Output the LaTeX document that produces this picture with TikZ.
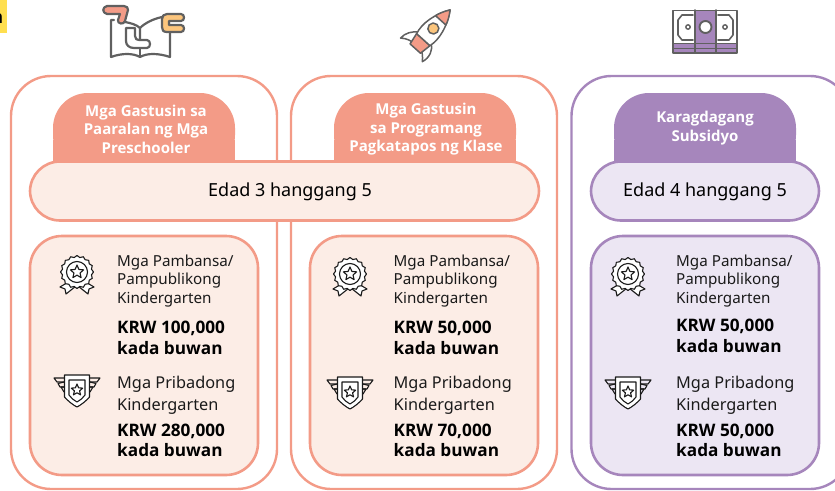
\documentclass[tikz,border=0pt]{standalone}
\usepackage{fontspec}
\setmainfont{Noto Sans}
\newfontfamily\heavyface{Open Sans}
\usetikzlibrary{shapes.geometric}
\definecolor{salmon}{HTML}{F39B87}
\definecolor{salmonfill}{HTML}{FCEDE6}
\definecolor{plum}{HTML}{A686BC}
\definecolor{plumfill}{HTML}{ECE6F3}
\definecolor{icongray}{HTML}{606060}
\definecolor{amber}{HTML}{FBC57D}
\definecolor{hilite}{HTML}{FFDF4F}
\definecolor{ink}{HTML}{1A1A1A}
\tikzset{
 x=1pt,y=-1pt,
 panel/.style={line width=2.4pt,fill=white,rounded corners=40pt},
 tabshape/.style={rounded corners=35pt},
 pill/.style={line width=2.6pt,rounded corners=30pt},
 card/.style={line width=2.6pt,rounded corners=32pt},
 tabtext/.style={font=\heavyface\fontsize{15}{18.4}\selectfont\bfseries,text=white,align=center,inner sep=0pt},
 agetext/.style={font=\fontsize{18}{22}\selectfont,text=black,inner sep=0pt},
 smalltext/.style={font=\fontsize{15.2}{18.8}\selectfont,text=ink,align=left,anchor=west,inner sep=0pt},
 midtext/.style={font=\fontsize{16.3}{22}\selectfont,text=ink,align=left,anchor=west,inner sep=0pt},
 boldtext/.style={font=\heavyface\fontsize{17.2}{20.6}\selectfont\bfseries,text=black,align=left,anchor=west,inner sep=0pt},
 ic/.style={draw=icongray,line width=2.2pt,line join=round,line cap=round},
 ln/.style={draw=ink,line width=1.1pt,line join=round,line cap=round},
 pics/medalicon/.style={code={
  \draw[ln,fill=white] (-7,9) -- (-17,15) -- (-12,17) -- (-11,22) -- (-1,14);
  \draw[ln,fill=white] (7,9) -- (17,15) -- (12,17) -- (11,22) -- (1,14);
  \node[ln,star,star points=16,star point ratio=1.12,minimum size=33pt,inner sep=0pt,fill=white] (-medalouter) at (0,0) {};
  \draw[ln] (0,0) circle[radius=10.5];
  \node[ln,star,star points=5,star point ratio=2.2,minimum size=14pt,inner sep=0pt] (-medalstar) at (0,0) {};
 }},
 pics/shieldicon/.style={code={
  \foreach \s in {-1,1}{
   \draw[ln] (\s*13,-12) -- (\s*23,-12) -- (\s*20,-8) -- (\s*13,-8);
   \draw[ln] (\s*13,-8) -- (\s*19,-6.5) -- (\s*17,-3) -- (\s*13,-3);
   \draw[ln] (\s*13,-3) -- (\s*16,-3) -- (\s*13,2);
  }
  \draw[ln,fill=white] (-12.5,-15) -- (12.5,-15) -- (12.5,7) .. controls (9,11) and (4,15) .. (0,17) .. controls (-4,15) and (-9,11) .. (-12.5,7) -- cycle;
  \draw[ln] (-8,-10) -- (8,-10) -- (8,5) .. controls (6,8) and (3,10.5) .. (0,12) .. controls (-3,10.5) and (-6,8) .. (-8,5) -- cycle;
  \node[ln,star,star points=5,star point ratio=2.2,minimum size=12pt,inner sep=0pt] (-shieldstar) at (0,0) {};
 }},
}
\begin{document}
\begin{tikzpicture}
\useasboundingbox (0,0) rectangle (835,490);
% highlight corner
\fill[hilite] (0,0) rectangle (7,33);
\node[font=\heavyface\fontsize{18}{20}\selectfont\bfseries,text=black,inner sep=0pt,anchor=east] (corner) at (3.5,18) {n};
% panels
\draw[panel,draw=salmon] (11,76) rectangle (277,489);
\draw[panel,draw=salmon] (291,76) rectangle (557,489);
\draw[panel,draw=plum] (571.5,76) rectangle (850,489);
% tabs
\fill[salmon,tabshape] (53,170) -- (53,93) -- (235,93) -- (235,170) -- cycle;
\fill[salmon,tabshape] (334,170) -- (334,93) -- (516,93) -- (516,170) -- cycle;
\fill[plum,tabshape] (614,170) -- (614,93) -- (796,93) -- (796,170) -- cycle;
\fill[salmon] (53,140) rectangle (235,170);
\fill[salmon] (334,140) rectangle (516,170);
\fill[plum] (614,140) rectangle (796,170);
\node[tabtext] (tab1) at (146,129) {Mga Gastusin sa\\Paaralan ng Mga\\Preschooler};
\node[tabtext] (tab2) at (426,129.5) {Mga Gastusin\\sa Programang\\Pagkatapos ng Klase};
\node[tabtext] (tab3) at (705,128) {Karagdagang\\Subsidyo};
% pills
\draw[pill,draw=salmon,fill=salmonfill] (30,161.5) rectangle (539,220.5);
\draw[pill,draw=plum,fill=plumfill] (591,161.5) rectangle (819,220.5);
\node[agetext] (age1) at (290,191.5) {Edad 3 hanggang 5};
\node[agetext] (age2) at (705,191.5) {Edad 4 hanggang 5};
% cards
\draw[card,draw=salmon,fill=salmonfill] (30,236) rectangle (258,475);
\draw[card,draw=salmon,fill=salmonfill] (310,236) rectangle (538,475);
\draw[card,draw=plum,fill=plumfill] (591,236) rectangle (819,475);
% card 1
\pic (m1) at (77,272) {medalicon};
\pic (s1) at (77,390) {shieldicon};
\node[smalltext] (a1) at (117,281) {Mga Pambansa/\\Pampublikong\\Kindergarten};
\node[boldtext] (b1) at (117,338) {KRW 100,000\\kada buwan};
\node[midtext] (c1) at (117,395) {Mga Pribadong\\Kindergarten};
\node[boldtext] (d1) at (117,440.5) {KRW 280,000\\kada buwan};
% card 2
\pic (m2) at (350,274) {medalicon};
\pic (s2) at (350,392) {shieldicon};
\node[smalltext] (a2) at (393.5,281) {Mga Pambansa/\\Pampublikong\\Kindergarten};
\node[boldtext] (b2) at (393.5,338) {KRW 50,000\\kada buwan};
\node[midtext] (c2) at (393.5,395) {Mga Pribadong\\Kindergarten};
\node[boldtext] (d2) at (393.5,440.5) {KRW 70,000\\kada buwan};
% card 3
\pic (m3) at (628,274) {medalicon};
\pic (s3) at (628,392) {shieldicon};
\node[smalltext] (a3) at (676,281) {Mga Pambansa/\\Pampublikong\\Kindergarten};
\node[boldtext] (b3) at (676,336) {KRW 50,000\\kada buwan};
\node[midtext] (c3) at (676,395) {Mga Pribadong\\Kindergarten};
\node[boldtext] (d3) at (676,440.5) {KRW 50,000\\kada buwan};
% book icon
\draw[ic] (114,20) -- (111,20) -- (111,57) .. controls (122,53) and (133,53) .. (140,57) .. controls (147,53) and (158,53) .. (170,57) -- (170,33);
\draw[ic] (140,57) -- (140,48);
\draw[ic] (140,39) -- (140,28) .. controls (145,23) and (153,19) .. (162,17);
\draw[ic] (140,28) .. controls (137,25) and (131,23) .. (125,22);
\draw[ic,fill=white] (126,28) -- (135,28) -- (135,36) .. controls (135,39) and (137,40) .. (139,40) -- (147,40) .. controls (151,40) and (151,48) .. (147,48) -- (134,48) .. controls (129,48) and (126,45) .. (126,41) -- cycle;
\draw[ic,fill=salmon] (107,6) -- (124,6) .. controls (127,6) and (128,8) .. (128,10) -- (125,21) .. controls (124,25) and (117,24) .. (118,20) -- (120,14) -- (107,14) .. controls (102,13) and (102,7) .. (107,6) -- cycle;
\draw[ic,fill=amber] (167,14) -- (181,14) .. controls (185,14) and (185,21) .. (181,21) -- (169,21) -- (169,25) -- (181,25) .. controls (185,25) and (185,32) .. (181,32) -- (167,32) .. controls (163,32) and (162,30) .. (162,27) -- (162,19) .. controls (162,16) and (164,14) .. (167,14) -- cycle;
% rocket icon
\begin{scope}[shift={(432,30)},rotate=-42]
\draw[ic,line width=1.5pt,fill=white] (-8,10) .. controls (-14,14) and (-18,20) .. (-18,27) .. controls (-13,23) and (-8,22) .. (-5,22);
\draw[ic,line width=1.5pt,fill=white] (8,10) .. controls (14,14) and (17,22) .. (14,30) .. controls (11,26) and (8,23) .. (5,22);
\draw[ic,line width=1.5pt,fill=salmon] (-9,13) -- (9,13) -- (7,25) -- (-7,25) -- cycle;
\draw[ic,line width=1.5pt,fill=white] (-9,13) .. controls (-12,2) and (-9,-13) .. (0,-27) .. controls (9,-13) and (12,2) .. (9,13) -- cycle;
\draw[ic,line width=1.5pt,fill=salmon] (0,-27) .. controls (3.5,-22) and (6,-17) .. (7,-13) -- (-7,-13) .. controls (-6,-17) and (-3.5,-22) .. (0,-27) -- cycle;
\draw[ic,line width=1.5pt,fill=amber] (0,-2) circle[radius=5.5];
\end{scope}
% money icon
\fill[white] (673,10) rectangle (737,53);
\fill[plum] (695,10) rectangle (716,53);
\fill[plum] (673,43) rectangle (737,53);
\draw[ic,line width=1.9pt] (673,10.5) rectangle (737,53);
\draw[ic,line width=1.6pt] (673,43.5) -- (737,43.5);
\draw[ic,line width=1.2pt] (673,48.5) -- (737,48.5);
\draw[ic,line width=1.6pt] (695,10) -- (695,53);
\draw[ic,line width=1.6pt] (716,10) -- (716,53);
\draw[ic,line width=1.9pt,fill=white] (705.5,27) circle[radius=6];
\draw[ic,line width=1.6pt] (693,15) -- (682,15) -- (678,20) -- (678,35) -- (682,40) -- (693,40);
\draw[ic,line width=1.6pt] (718,15) -- (729,15) -- (733,20) -- (733,35) -- (729,40) -- (718,40);
\draw[ic,line width=1.4pt] (688,27) circle[radius=2.2];
\draw[ic,line width=1.4pt] (725,27) circle[radius=2.2];
\end{tikzpicture}
\end{document}
